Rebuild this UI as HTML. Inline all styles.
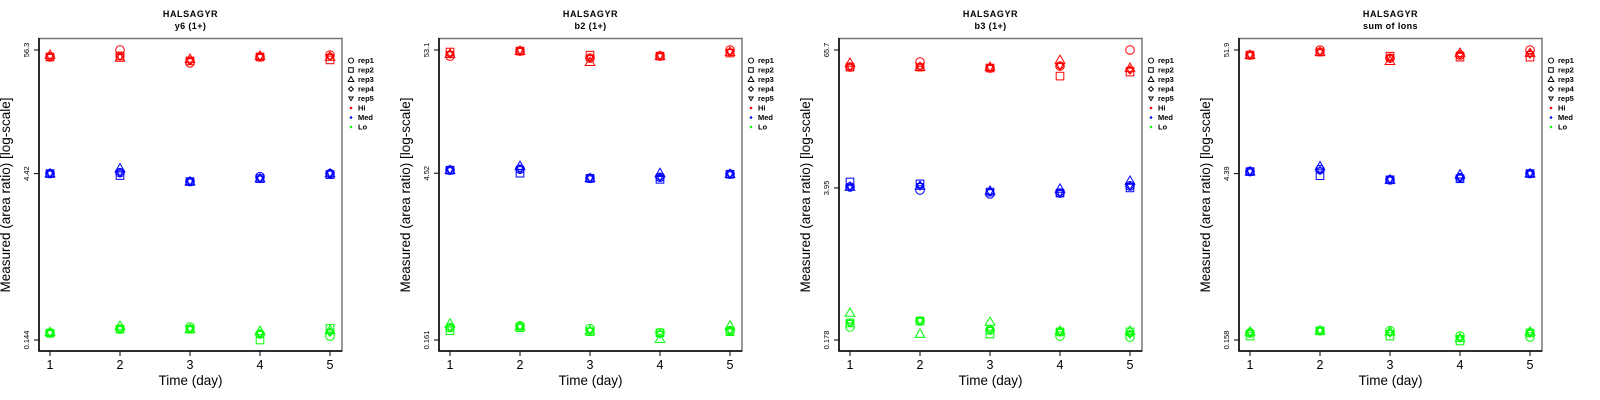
<!DOCTYPE html>
<html><head><meta charset="utf-8"><style>
html,body{margin:0;padding:0;background:#fff;}
svg{display:block;font-family:"Liberation Sans",sans-serif;}
</style></head><body>
<svg id="chart" width="1600" height="400" viewBox="0 0 1600 400" xmlns="http://www.w3.org/2000/svg"></svg>
<script>
const days = [1,2,3,4,5];
const repNames = ["rep1","rep2","rep3","rep4","rep5"];
const levelNames = ["Hi","Med","Lo"];
const panelTitles = ["y6 (1+)","b2 (1+)","b3 (1+)","sum of Ions"];
const tickLabels = [["56.3","4.42","0.144"],["53.1","4.52","0.161"],["65.7","3.95","0.178"],["51.9","4.39","0.158"]];
const tickValues = [[56.3,4.42,0.144],[53.1,4.52,0.161],[65.7,3.95,0.178],[51.9,4.39,0.158]];
// values[panel][level][day] = [rep1..rep5]
const p1Hi = [[48.8,48.8,50.8,48.8,48.8],[56.3,49.8,47.8,49.8,48.8],[43.2,45.0,46.8,45.0,45.0],[48.8,48.8,49.8,48.8,48.8],[50.8,45.9,48.8,49.8,48.8]];
const p1Med = [[4.42,4.42,4.42,4.42,4.42],[4.51,4.25,4.90,4.51,4.51],[3.75,3.75,3.75,3.75,3.75],[4.15,3.99,3.99,3.99,3.99],[4.42,4.33,4.42,4.42,4.42]];
const p1Lo = [[0.166,0.166,0.169,0.166,0.166],[0.180,0.180,0.192,0.180,0.180],[0.188,0.180,0.180,0.180,0.180],[0.163,0.144,0.173,0.163,0.163],[0.156,0.183,0.176,0.169,0.169]];
const p2Hi = [[47.0,51.0,49.0,49.0,49.0],[52.0,52.0,52.0,52.0,52.0],[45.1,47.9,41.6,45.1,45.1],[47.0,47.0,47.0,47.0,47.0],[53.1,50.0,51.0,51.0,51.0]];
const p2Med = [[4.80,4.80,4.80,4.80,4.80],[4.90,4.52,5.21,4.90,4.90],[4.08,4.08,4.08,4.08,4.08],[4.17,4.00,4.52,4.17,4.17],[4.43,4.43,4.43,4.43,4.43]];
const p2Lo = [[0.206,0.194,0.223,0.206,0.206],[0.214,0.206,0.210,0.210,0.210],[0.202,0.190,0.194,0.194,0.194],[0.186,0.186,0.164,0.182,0.182],[0.194,0.190,0.214,0.194,0.194]];
const p3Hi = [[46.4,46.4,50.4,46.4,46.4],[51.4,46.4,46.4,46.4,46.4],[45.5,45.5,46.4,45.5,45.5],[47.4,38.6,53.5,47.4,47.4],[65.7,41.9,45.5,43.7,43.7]];
const p3Med = [[4.03,4.46,4.03,4.03,4.03],[3.79,4.29,4.11,4.11,4.11],[3.50,3.63,3.71,3.63,3.63],[3.56,3.56,3.87,3.56,3.56],[4.11,3.95,4.55,4.11,4.11]];
const p3Lo = [[0.232,0.252,0.309,0.252,0.252],[0.262,0.262,0.201,0.262,0.262],[0.218,0.201,0.257,0.218,0.218],[0.193,0.210,0.214,0.210,0.210],[0.189,0.210,0.214,0.201,0.201]];
const p4Hi = [[46.9,46.9,46.9,46.9,46.9],[51.9,49.8,49.8,49.8,49.8],[44.1,45.9,41.5,44.1,44.1],[46.9,45.0,48.8,46.9,46.9],[51.9,45.0,48.8,47.9,47.9]];
const p4Med = [[4.57,4.57,4.57,4.57,4.57],[4.76,4.21,5.06,4.67,4.67],[3.88,3.88,3.88,3.88,3.88],[4.05,3.96,4.30,4.05,4.05],[4.39,4.39,4.39,4.39,4.39]];
const p4Lo = [[0.182,0.171,0.186,0.182,0.182],[0.190,0.190,0.190,0.190,0.190],[0.190,0.171,0.186,0.182,0.182],[0.171,0.155,0.164,0.164,0.164],[0.168,0.182,0.186,0.182,0.182]];
const panelData = [[p1Hi,p1Med,p1Lo],[p2Hi,p2Med,p2Lo],[p3Hi,p3Med,p3Lo],[p4Hi,p4Med,p4Lo]];
const levelColors = ["#ff0000","#0000ff","#00ff00"];

const NS = "http://www.w3.org/2000/svg";
const svg = document.getElementById("chart");
function mk(tag, attrs, parent){const e=document.createElementNS(NS,tag);for(const k in attrs)e.setAttribute(k,attrs[k]);(parent||svg).appendChild(e);return e;}

function marker(g, rep, cx, cy, color){
  let e;
  const r=4.3;
  if(rep===0){e=mk("circle",{cx:cx,cy:cy,r:r,fill:"none",stroke:color,"stroke-width":1},g);}
  else if(rep===1){e=mk("rect",{x:cx-3.8,y:cy-3.8,width:7.6,height:7.6,fill:"none",stroke:color,"stroke-width":1},g);}
  else if(rep===2){e=mk("polygon",{points:`${cx},${cy-5} ${cx-4.8},${cy+3.3} ${cx+4.8},${cy+3.3}`,fill:"none",stroke:color,"stroke-width":1},g);}
  else if(rep===3){e=mk("polygon",{points:`${cx},${cy-4} ${cx+4},${cy} ${cx},${cy+4} ${cx-4},${cy}`,fill:"none",stroke:color,"stroke-width":1},g);}
  else {e=mk("polygon",{points:`${cx},${cy+3.5} ${cx-3.6},${cy-2.5} ${cx+3.6},${cy-2.5}`,fill:"none",stroke:color,"stroke-width":1},g);}
  return e;
}

for(let p=0;p<4;p++){
  const ox=p*400;
  const g=mk("g",{});
  
  
  const tv=tickValues[p];
  const lmax=Math.log(tv[0]), lmin=Math.log(tv[2]);
  const yS=v=>340-(Math.log(v)-lmin)/(lmax-lmin)*290;
  const xS=d=>ox+50+(d-1)*70;
  const box=mk("rect",{x:ox+39,y:38.5,width:303,height:312.5,fill:"none",stroke:"#777","stroke-width":1.5},g);
  
  
  mk("line",{x1:ox+39,y1:38,x2:ox+39,y2:351.5,stroke:"#000","stroke-width":1.5},g);
  mk("line",{x1:ox+38.5,y1:351,x2:ox+342,y2:351,stroke:"#000","stroke-width":1.5},g);
  const t1=mk("text",{x:ox+190.5,y:17,"text-anchor":"middle","font-size":"9","font-weight":"bold","letter-spacing":"0.6"},g);
  t1.textContent="HALSAGYR";
  
  
  const t2=mk("text",{x:ox+190.5,y:29,"text-anchor":"middle","font-size":"9","font-weight":"bold","letter-spacing":"0.4"},g);
  t2.textContent=panelTitles[p];
  
  
  for(let i=0;i<3;i++){
    const y=yS(tv[i]);
    mk("line",{x1:ox+34,y1:y,x2:ox+39,y2:y,stroke:"#000","stroke-width":1},g);
    const tl=mk("text",{x:0,y:0,transform:`translate(${ox+29},${y}) rotate(-90)`,"text-anchor":"middle","font-size":"7.5"},g);
    tl.textContent=tickLabels[p][i];
    
    
  }
  days.forEach(d=>{
    const x=xS(d);
    mk("line",{x1:x,y1:351,x2:x,y2:356,stroke:"#000","stroke-width":1},g);
    const xl=mk("text",{x:x,y:369,"text-anchor":"middle","font-size":"12.5"},g);
    xl.textContent=String(d);
    
    
  });
  const xt=mk("text",{x:ox+190.5,y:385,"text-anchor":"middle","font-size":"13.5"},g);
  xt.textContent="Time (day)";
  
  
  const yt=mk("text",{x:0,y:0,transform:`translate(${ox+10},195) rotate(-90)`,"text-anchor":"middle","font-size":"13.5"},g);
  yt.textContent="Measured (area ratio) [log-scale]";
  
  
  for(let L=0;L<3;L++){
    for(let di=0;di<5;di++){
      for(let r=0;r<5;r++){
        const v=panelData[p][L][di][r];
        const m=marker(g,r,xS(days[di]),yS(v),levelColors[L]);
        
        
      }
    }
  }
  const lg=mk("g",{},g);
  
  
  const labels=repNames.concat(levelNames);
  labels.forEach((lab,i)=>{
    const y=60.5+i*9.5;
    const lx=ox+351;
    if(i<5){
      const g2=mk("g",{},lg);
      const m=marker(g2,i,lx,y,"#000");
      m.setAttribute("transform",`translate(${lx},${y}) scale(0.6) translate(${-lx},${-y})`);
      m.setAttribute("stroke-width","1.6");
    } else {
      mk("circle",{cx:lx,cy:y,r:1.3,fill:levelColors[i-5]},lg);
    }
    const tx=mk("text",{x:ox+358,y:y+2.6,"font-size":"7.5","font-weight":"bold"},lg);
    tx.textContent=lab;
    
    
  });
}
</script>
</body></html>
